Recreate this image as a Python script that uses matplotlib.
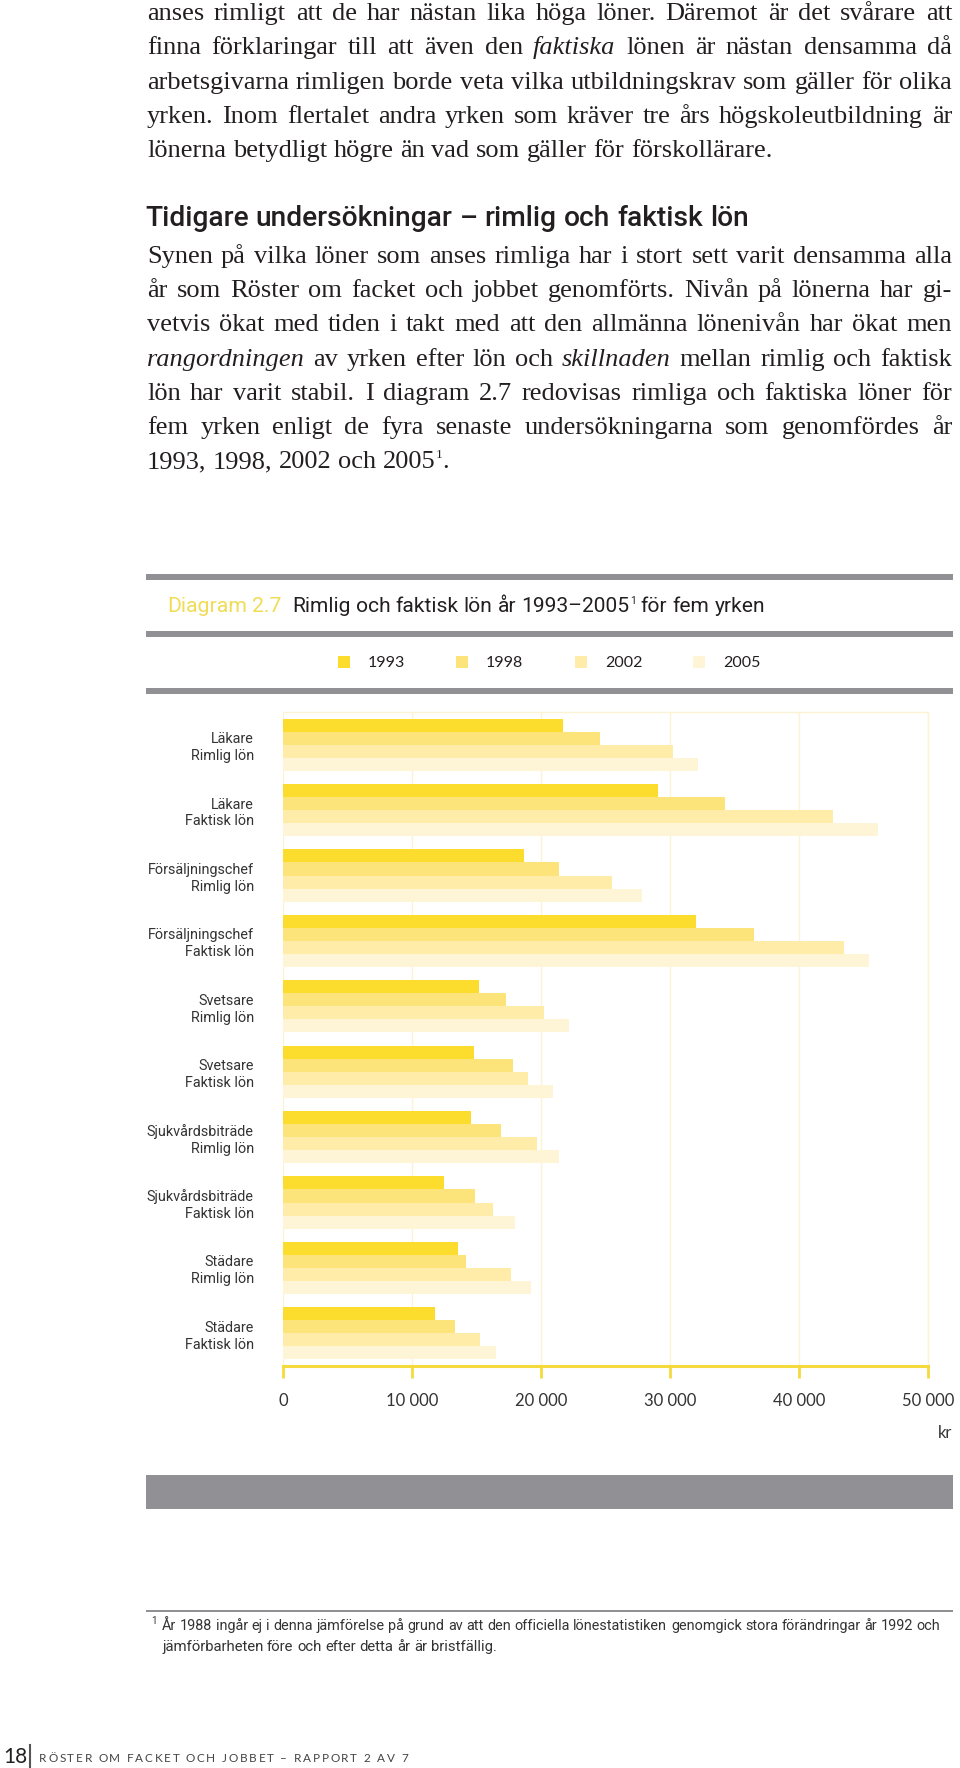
import re
import matplotlib
matplotlib.use('Agg')
import matplotlib.pyplot as plt
from matplotlib.patches import Rectangle

# data
occupations = ['Läkare', 'Läkare', 'Försäljningschef', 'Försäljningschef', 'Svetsare', 'Svetsare',
               'Sjukvårdsbiträde', 'Sjukvårdsbiträde', 'Städare', 'Städare']
wage_kind = ['Rimlig lön', 'Faktisk lön'] * 5
years = ['1993', '1998', '2002', '2005']
lon_1993 = [21700, 29100, 18700, 32000, 15200, 14800, 14600, 12500, 13600, 11800]
lon_1998 = [24600, 34300, 21400, 36500, 17300, 17800, 16900, 14900, 14200, 13300]
lon_2002 = [30200, 42600, 25500, 43500, 20200, 19000, 19700, 16300, 17700, 15300]
lon_2005 = [32200, 46100, 27800, 45400, 22200, 20900, 21400, 18000, 19200, 16500]
x_ticks = [0, 10000, 20000, 30000, 40000, 50000]
x_ticklabels = ['0', '10 000', '20 000', '30 000', '40 000', '50 000']

text_top = [
    "anses rimligt att de har nästan lika höga löner. Däremot är det svårare att",
    "finna förklaringar till att även den _faktiska_ lönen är nästan densamma då",
    "arbetsgivarna rimligen borde veta vilka utbildningskrav som gäller för olika",
    "yrken. Inom flertalet andra yrken som kräver tre års högskoleutbildning är",
    "lönerna betydligt högre än vad som gäller för förskollärare.",
]
heading = "Tidigare undersökningar – rimlig och faktisk lön"
text_para = [
    "Synen på vilka löner som anses rimliga har i stort sett varit densamma alla",
    "år som Röster om facket och jobbet genomförts. Nivån på lönerna har gi-",
    "vetvis ökat med tiden i takt med att den allmänna lönenivån har ökat men",
    "_rangordningen_ av yrken efter lön och _skillnaden_ mellan rimlig och faktisk",
    "lön har varit stabil. I diagram 2.7 redovisas rimliga och faktiska löner för",
    "fem yrken enligt de fyra senaste undersökningarna som genomfördes år",
    "1993, 1998, 2002 och 2005^1.",
]
footnote = [
    "År 1988 ingår ej i denna jämförelse på grund av att den officiella lönestatistiken genomgick stora förändringar år 1992 och",
    "jämförbarheten före och efter detta år är bristfällig.",
]
footer = "RÖSTER OM FACKET OCH JOBBET – RAPPORT 2 AV 7"

INK = '#231f20'
GRAY = '#909095'
colors = ['#fcdc2c', '#fde47a', '#feeca8', '#fef5d6']
SERIF = 'Liberation Serif'
NARROW = 'Roboto'
SANS = 'Lato'

fig = plt.figure(figsize=(9.6, 17.68), dpi=100)
bg = fig.add_axes([0, 0, 1, 1])
bg.set_xlim(0, 960)
bg.set_ylim(1768, 0)
bg.axis('off')
r = fig.canvas.get_renderer()


def put_line(x0, y, line, size, family, color=INK, x1=None, fit=None, weight='normal'):
    # place words one by one; justified between x0 and x1, or scaled to width fit
    px = size * 100 / 72
    words = []
    for tok in line.split(' '):
        segs = []
        for piece in re.split(r'(\^\d+)', tok):
            if not piece:
                continue
            if piece.startswith('^'):
                t = bg.text(0, y - px * 0.38, piece[1:], fontsize=size * 0.5, family=family,
                            color=color, va='baseline', weight=weight)
            elif piece.startswith('_'):
                t = bg.text(0, y, piece.strip('_'), fontsize=size, family=family, style='italic',
                            color=color, va='baseline', weight=weight)
            else:
                t = bg.text(0, y, piece, fontsize=size, family=family, color=color,
                            va='baseline', weight=weight)
            segs.append(t)
        words.append(segs)
    widths = [[s.get_window_extent(renderer=r).width for s in segs] for segs in words]
    total = sum(sum(w) for w in widths)
    gap = px * 0.25
    if fit is not None:
        k = fit / (total + gap * (len(words) - 1))
        for segs in words:
            for s in segs:
                s.remove()
        return put_line(x0, y, line, size * k, family, color, weight=weight)
    if x1 is not None and len(words) > 1:
        gap = (x1 - x0 - total) / (len(words) - 1)
    x = x0
    for segs, ws in zip(words, widths):
        for s, w in zip(segs, ws):
            s.set_x(x)
            x += w
        x += gap
    return x


def put_tracked(x0, y, s, size, family, color, x1):
    ts, ws = [], []
    for ch in s:
        t = bg.text(0, y, ch, fontsize=size, family=family, color=color, va='baseline')
        w = t.get_window_extent(renderer=r).width if ch != ' ' else size * 100 / 72 * 0.25
        ts.append(t)
        ws.append(w)
    track = (x1 - x0 - sum(ws)) / (len(s) - 1)
    x = x0
    for t, w in zip(ts, ws):
        t.set_x(x)
        x += w + track


# body text
X0, X1 = 147, 952
for i, line in enumerate(text_top):
    put_line(X0, 20 + i * 34.3, line, 19, SERIF, x1=X1 if i < len(text_top) - 1 else None)

put_line(145, 226, heading, 18, NARROW, fit=603, weight='medium')
for i, line in enumerate(text_para):
    put_line(X0, 263 + i * 34.2, line, 19, SERIF, x1=X1 if i < len(text_para) - 1 else None)

# diagram frame lines
for yy in (574, 631, 688):
    bg.add_patch(Rectangle((146, yy), 807, 6, color=GRAY, lw=0))
bg.add_patch(Rectangle((146, 1475), 807, 34, color=GRAY, lw=0))
bg.add_patch(Rectangle((146, 1610), 807, 2, color=GRAY, lw=0))

# chart title
put_line(167, 612, 'Diagram 2.7', 15, NARROW, color='#f0dc55', fit=115)
put_line(292, 612, "Rimlig och faktisk lön år 1993–2005^1 för fem yrken", 15, NARROW, fit=473)

# legend
leg_x = [344, 462, 581, 699]
for lx, yr, c in zip(leg_x, years, colors):
    bg.add_patch(Rectangle((lx - 6, 656), 12, 12, color=c, lw=0))
    bg.text(lx + 24, 667, yr, fontsize=11.5, family=SANS, color=INK, va='baseline')

# chart
ax = fig.add_axes([283 / 960, 1 - 1366 / 1768, (928 - 283) / 960, (1366 - 712) / 1768])
ax.set_facecolor('none')
series = [lon_1993, lon_1998, lon_2002, lon_2005]
for k, (vals, c) in enumerate(zip(series, colors)):
    pos = [i - 0.3 + 0.2 * k for i in range(len(vals))]
    ax.barh(pos, vals, height=0.2, color=c, edgecolor='none', zorder=2)
ax.set_xlim(0, 50000)
ax.set_ylim(9.5, -0.5)
ax.set_yticks(range(len(occupations)))
ax.set_yticklabels([f"{o}\n{w}" for o, w in zip(occupations, wage_kind)],
                   fontsize=10.4, family=NARROW, color='#333333', linespacing=1.25)
ax.tick_params(axis='y', length=0, pad=21)
ax.set_xticks(x_ticks)
ax.set_xticklabels(x_ticklabels, fontsize=12, family=SANS, color='#333333')
ax.tick_params(axis='x', direction='out', length=8.6, width=2, color='#f4da3c', pad=11)
ax.grid(axis='x', color='#fcf3d2', lw=1, zorder=0)
ax.set_axisbelow(True)
for side in ('top', 'right'):
    ax.spines[side].set_color('#fcf3d2')
    ax.spines[side].set_linewidth(1)
ax.spines['left'].set_visible(False)
ax.spines['bottom'].set_color('#f4da3c')
ax.spines['bottom'].set_linewidth(2.2)
bg.text(952, 1438, 'kr', fontsize=12, family=SANS, color='#333333', ha='right', va='baseline')

# footnote
bg.text(151, 1624, '1', fontsize=7, family=NARROW, color='#333333', va='baseline')
put_line(162, 1630, footnote[0], 10.5, NARROW, color='#333333', fit=778)
put_line(162, 1651, footnote[1], 10.5, NARROW, color='#333333', fit=338)

# footer
bg.text(3, 1763, '18', fontsize=15, family=SANS, color=INK, va='baseline')
bg.plot([30, 30], [1745, 1768], color='#555555', lw=1.5)
put_tracked(39, 1762, footer, 8.5, SANS, '#444444', 408)

fig.savefig('out.png', dpi=100)
